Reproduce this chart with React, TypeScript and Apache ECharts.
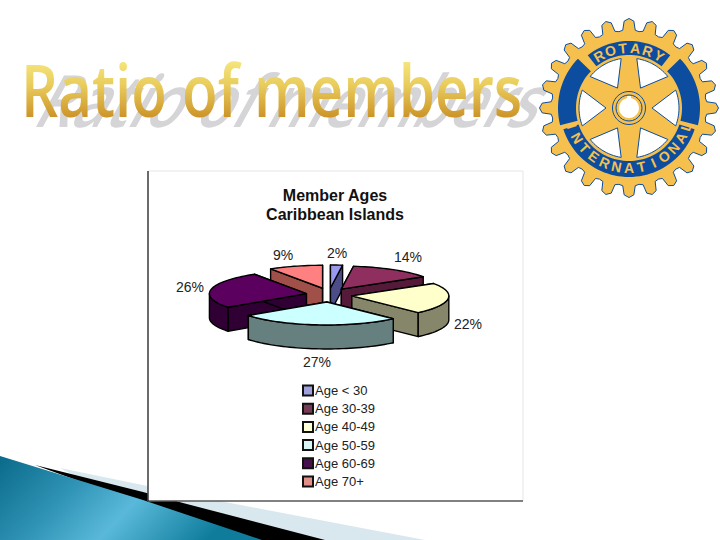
import React, { useEffect, useRef } from "react";
import * as echarts from "echarts";

const categories = ["Age < 30", "Age 30-39", "Age 40-49", "Age 50-59", "Age 60-69", "Age 70+"];
const shares = [2, 14, 22, 27, 26, 9];
const topColors = ["#9999ee", "#8f2f60", "#ffffcc", "#ccffff", "#5c0060", "#ff8080"];
const wallColors = ["#4c4c88", "#551a3a", "#86866a", "#668080", "#300035", "#a05048"];
const legendColors = ["#a0a0dc", "#753c55", "#ffffd8", "#d8f6f6", "#46104e", "#e09088"];
const paintOrder = [0, 1, 5, 4, 2, 3];
const labelAnchors = [[337, 253], [408, 257], [468, 324], [317, 362], [190, 287], [283, 255]];

const chartTitle = "Member Ages\nCaribbean Islands";
const slideTitle = "Ratio of members";

const PIE = { cx: 329, cy: 295, rx: 97, ry: 23, depth: 24, ex: 23, ey: 7 };
const LOGO = { cx: 629, cy: 108 };
const YELLOW = "#f6c04e";
const BLUE = "#0c4d9f";
const FONT = '"Liberation Sans", Arial, sans-serif';
const GOLD_BASE = "#e2c050";

const total = shares.reduce((a, b) => a + b, 0);

function renderSlice(params: any, api: any) {
  const i = params.seriesIndex;
  const before = shares.slice(0, i).reduce((a, b) => a + b, 0);
  const a0 = (before / total) * Math.PI * 2;
  const a1 = ((before + api.value(0)) / total) * Math.PI * 2;
  const mid = (a0 + a1) / 2;
  const ox = PIE.cx + Math.sin(mid) * PIE.ex;
  const oy = PIE.cy - Math.cos(mid) * PIE.ey;
  const pt = (a: number, d = 0) => [ox + PIE.rx * Math.sin(a), oy - PIE.ry * Math.cos(a) + d];
  const arc = (s: number, e: number, d = 0) => {
    const n = Math.max(2, Math.ceil(Math.abs(e - s) / 0.04));
    const out: number[][] = [];
    for (let k = 0; k <= n; k++) out.push(pt(s + ((e - s) * k) / n, d));
    return out;
  };
  const line = { stroke: "#000", lineWidth: 1.4, lineJoin: "round" };
  const children: any[] = [];
  const wall = (a: number) => ({
    type: "polygon",
    shape: { points: [[ox, oy], pt(a), pt(a, PIE.depth), [ox, oy + PIE.depth]] },
    style: { fill: wallColors[i], ...line },
  });
  children.push(wall(a0), wall(a1));
  const fs = Math.max(a0, Math.PI / 2);
  const fe = Math.min(a1, (Math.PI * 3) / 2);
  if (fe > fs) {
    children.push({
      type: "polygon",
      shape: { points: [...arc(fs, fe), ...arc(fe, fs, PIE.depth)] },
      style: { fill: wallColors[i], ...line },
    });
  }
  children.push({
    type: "polygon",
    shape: { points: [[ox, oy], ...arc(a0, a1)] },
    style: { fill: topColors[i], ...line },
  });
  children.push({
    type: "text",
    x: labelAnchors[i][0],
    y: labelAnchors[i][1],
    style: {
      text: `${api.value(0)}%`,
      fill: "#222",
      font: `14px ${FONT}`,
      align: "center",
      verticalAlign: "middle",
    },
  });
  return { type: "group", children };
}

function polar(r: number, deg: number) {
  const a = (deg * Math.PI) / 180;
  return [LOGO.cx + r * Math.sin(a), LOGO.cy - r * Math.cos(a)];
}
function band(r0: number, r1: number, d0: number, d1: number) {
  const pts: number[][] = [];
  const n = Math.ceil(Math.abs(d1 - d0) / 3);
  for (let k = 0; k <= n; k++) pts.push(polar(r1, d0 + ((d1 - d0) * k) / n));
  for (let k = n; k >= 0; k--) pts.push(polar(r0, d0 + ((d1 - d0) * k) / n));
  return pts;
}
function logoElements() {
  const els: any[] = [];
  const gear: number[][] = [];
  const teeth = 24;
  for (let t = 0; t < teeth; t++) {
    const c = (t * 360) / teeth;
    gear.push(polar(77, c - 7.5), polar(78, c - 4.6), polar(87, c - 3.2), polar(89.5, c), polar(87, c + 3.2), polar(78, c + 4.6));
  }
  els.push({ type: "polygon", shape: { points: gear }, style: { fill: YELLOW, stroke: BLUE, lineWidth: 1, lineJoin: "round" } });
  for (const [r0, r1, d0, d1] of [
    [53, 67, -38, 38],
    [53, 71, 46, 104],
    [53, 71, -104, -46],
    [53, 69, 108, 252],
  ]) {
    els.push({ type: "polygon", shape: { points: band(r0, r1, d0, d1) }, style: { fill: BLUE } });
  }
  for (const c of [30, 90, 150, 210, 270, 330]) {
    const pts = [polar(23, c), ...band(50, 50, c - 21, c + 21).slice(0, 15)];
    els.push({ type: "polygon", shape: { points: pts }, style: { fill: "#fff", stroke: BLUE, lineWidth: 1, lineJoin: "round" } });
  }
  els.push({ type: "circle", shape: { cx: LOGO.cx, cy: LOGO.cy, r: 16.5 }, style: { fill: YELLOW, stroke: BLUE, lineWidth: 1 } });
  els.push({ type: "circle", shape: { cx: LOGO.cx, cy: LOGO.cy, r: 13 }, style: { fill: YELLOW, stroke: BLUE, lineWidth: 1 } });
  els.push({ type: "circle", shape: { cx: LOGO.cx, cy: LOGO.cy, r: 10 }, style: { fill: "#fff" } });
  els.push({ type: "rect", shape: { x: LOGO.cx - 2, y: LOGO.cy - 12, width: 4, height: 4 }, style: { fill: "#fff" } });
  const letter = (ch: string, deg: number, bottom: boolean) => {
    const p = polar(60, deg);
    els.push({
      type: "text",
      x: p[0],
      y: p[1],
      rotation: (-(bottom ? deg - 180 : deg) * Math.PI) / 180,
      style: { text: ch, fill: YELLOW, font: `bold 14px ${FONT}`, align: "center", verticalAlign: "middle" },
    });
  };
  "ROTARY".split("").forEach((ch, k) => letter(ch, -30 + k * 12, false));
  "INTERNATIONAL".split("").forEach((ch, k) => letter(ch, 180 + 72 - k * 12, true));
  return els;
}

function backgroundElements() {
  const els: any[] = [];
  els.push({
    type: "polygon",
    shape: { points: [[60, 468], [230, 503], [425, 540], [200, 540]] },
    style: { fill: "#d9e8ee" },
  });
  els.push({
    type: "polygon",
    shape: { points: [[35, 465], [143, 492], [183, 503], [325, 540], [240, 540]] },
    style: { fill: "#000" },
  });
  els.push({
    type: "polygon",
    shape: { points: [[0, 456], [143, 500], [262, 540], [0, 540]] },
    style: {
      fill: new echarts.graphic.LinearGradient(0, 0, 1, 0.3, [
        { offset: 0, color: "#0a6a8a" },
        { offset: 0.35, color: "#2f93b5" },
        { offset: 0.62, color: "#5ab9da" },
        { offset: 1, color: "#0f7c9c" },
      ]),
    },
  });
  els.push({
    type: "text",
    x: 26,
    y: 135,
    skewX: -0.5,
    scaleX: 0.81,
    style: { text: slideTitle, fill: "#d5d5d8", font: `600 72px "Open Sans", sans-serif`, verticalAlign: "bottom", align: "left" },
  });
  els.push({
    type: "text",
    x: 21,
    y: 125,
    scaleX: 0.81,
    style: {
      text: slideTitle,
      font: `600 72px "Open Sans", sans-serif`,
      verticalAlign: "bottom",
      align: "left",
      fill: GOLD_BASE,
    },
  });
  els.push({ type: "rect", shape: { x: 148, y: 171, width: 375, height: 330 }, style: { fill: "#fff", stroke: "#e6e6e6", lineWidth: 1 } });
  els.push({ type: "polyline", shape: { points: [[148, 171], [148, 501], [523, 501]] }, style: { fill: "none", stroke: "#111", lineWidth: 1.2 } });
  return els;
}

// zrender writes gradient text fills as black, so the slide title gets its gradient in the SVG itself.
function applyTitleGradient(root: HTMLElement) {
  const svg = root.querySelector("svg");
  if (!svg) return;
  const NS = "http://www.w3.org/2000/svg";
  const grad = document.createElementNS(NS, "linearGradient");
  grad.setAttribute("id", "slide-title-gold");
  grad.setAttribute("x1", "0");
  grad.setAttribute("y1", "0.12");
  grad.setAttribute("x2", "0");
  grad.setAttribute("y2", "0.8");
  for (const [o, c] of [["0", "#faf08a"], ["0.5", "#e9cc5c"], ["1", "#cc9226"]]) {
    const s = document.createElementNS(NS, "stop");
    s.setAttribute("offset", o);
    s.setAttribute("stop-color", c);
    grad.appendChild(s);
  }
  const defs = svg.querySelector("defs") || svg.insertBefore(document.createElementNS(NS, "defs"), svg.firstChild);
  defs.appendChild(grad);
  svg.querySelectorAll("text").forEach((t) => {
    if (t.textContent === slideTitle && (t.getAttribute("style") || "").concat(t.getAttribute("fill") || "").replace(/\s/g, "").match(/e2c050|rgb\(226,192,80\)/i)) {
      t.setAttribute("fill", "url(#slide-title-gold)");
      t.style.fill = "url(#slide-title-gold)";
    }
  });
}

export default function App() {
  const ref = useRef<HTMLDivElement>(null);
  useEffect(() => {
    const chart = echarts.init(ref.current!, undefined, { renderer: "svg" });
    chart.setOption({
      animation: false,
      backgroundColor: "#fff",
      title: {
        text: chartTitle,
        left: 330,
        top: 181,
        textAlign: "center",
        textStyle: { fontFamily: FONT, fontSize: 16, fontWeight: "bold", lineHeight: 19, color: "#111" },
      },
      legend: {
        orient: "vertical",
        left: 302,
        top: 384,
        padding: 0,
        itemWidth: 10,
        itemHeight: 10,
        itemGap: 5.2,
        icon: "rect",
        data: categories,
        textStyle: { fontFamily: FONT, fontSize: 13, color: "#222", padding: [0, 0, 0, -3] },
        selectedMode: false,
      },
      graphic: { elements: [...backgroundElements(), ...logoElements()] },
      series: categories.map((name, i) => ({
        type: "custom",
        name,
        coordinateSystem: "none",
        z: 5 + paintOrder.indexOf(i),
        itemStyle: { color: legendColors[i], borderColor: "#111", borderWidth: 1 },
        data: [shares[i]],
        renderItem: renderSlice,
      })),
    });
    applyTitleGradient(chart.getDom());
    return () => chart.dispose();
  }, []);
  return <div ref={ref} style={{ position: "fixed", left: 0, top: 0, width: 720, height: 540 }} />;
}
